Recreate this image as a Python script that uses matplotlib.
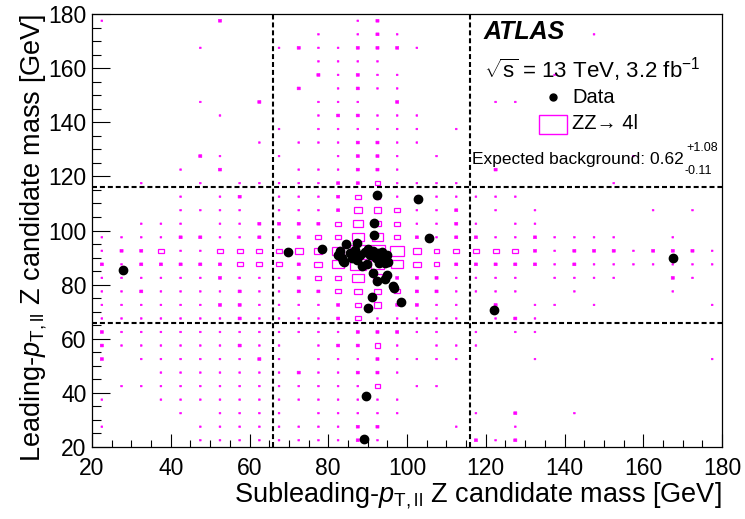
import numpy as np
import matplotlib
matplotlib.use("Agg")
from matplotlib import pyplot as plt
from matplotlib.patches import Rectangle

plt.rcParams['font.family'] = ['Liberation Sans', 'DejaVu Sans']
plt.rcParams['mathtext.fontset'] = 'custom'
plt.rcParams['mathtext.rm'] = 'Liberation Sans'
plt.rcParams['mathtext.it'] = 'Liberation Sans:italic'
plt.rcParams['mathtext.bf'] = 'Liberation Sans:bold'

# bin edges (5 GeV bins from 20 to 180) on both axes
bin_lo = 20
bin_w = 5

# ZZ -> 4l box sizes (0 = empty, 1 = dot ... 8 = biggest box)
# rows listed from the top (y = 177.5) to the bottom (y = 22.5)
zz_rows = [
    "10000020000001200000000000000000",
    "00000000000101210000000001000000",
    "00000100012112221000000000000000",
    "00000000000111100000000000000000",
    "00000000000212110000000100000000",
    "00000000002012110000000000000000",
    "00000100200111020000110000000000",
    "00000010000122111000000000000000",
    "00000000010111111010000000000000",
    "00000000101112211000000000000000",
    "00000210010012210100000000010000",
    "00001020001112210000200000000000",
    "00100101111122311110000000100000",
    "00001012011123311111110000000000",
    "00001111011124431120101000001010",
    "00111011222235431121011000000000",
    "11112211212336632122112111100100",
    "12231133334468874333332122212221",
    "21222223332468764322222121111111",
    "11111121112336522211110111100210",
    "11211112112234432211110010000100",
    "11111122111123422110201101000001",
    "11111112111123111110121000000000",
    "21111111111112221101011000000000",
    "21111112110122310111000000000000",
    "20111111210111211110001000000001",
    "00011111112112210000000000000000",
    "01111111111111301100000000000000",
    "10011111111111110000000000000000",
    "00001011110111110001020010000000",
    "10000111111112200010010000000000",
    "00000111111112100002120000000000",
]

# data events
data_x = [27.9, 69.9, 78.3, 92.3, 102.9, 91.6, 91.7, 105.6, 84.5, 87.4,
          167.6, 122.0, 89.5, 89.1, 91.0, 98.4, 90.1, 96.4, 96.6, 91.4,
          92.3, 94.4, 94.8, 83.0, 82.6, 83.4, 84.0, 85.5, 86.8, 87.2,
          88.5, 89.3, 89.9, 90.6, 91.4, 92.1, 92.7, 93.6, 94.0, 94.4,
          95.2, 88.0, 90.0, 86.0, 93.0, 83.8, 95.0]
data_y = [85.4, 92.0, 93.0, 113.1, 111.6, 102.9, 98.2, 97.4, 95.0, 95.4,
          89.7, 70.5, 38.8, 22.8, 75.3, 73.6, 71.4, 79.5, 78.7, 84.2,
          81.4, 82.0, 83.5, 92.5, 90.9, 89.7, 88.5, 91.6, 92.8, 89.1,
          86.9, 92.2, 87.6, 90.9, 92.5, 89.7, 91.6, 92.2, 90.3, 87.9,
          88.5, 91.0, 93.0, 90.0, 88.0, 88.6, 91.0]

cut_lo = 66
cut_hi = 116

magenta = '#ff00ff'

fig = plt.figure(figsize=(7.45, 5.19), dpi=100)
ax = fig.add_axes([92/745, 1-447/519, 630/745, 433/519])

nrow = len(zz_rows)
for r, row in enumerate(zz_rows):
    assert len(row) == 32
    yc = bin_lo + bin_w*(nrow - 1 - r) + bin_w/2
    for c, ch in enumerate(row):
        lev = int(ch)
        if lev == 0:
            continue
        xc = bin_lo + bin_w*c + bin_w/2
        if lev < 3:
            # tiny contents: drawn as small filled squares
            f = 0.09 if lev == 1 else 0.16
            w, h = f*bin_w, f*bin_w*1.3
            ax.add_patch(Rectangle((xc - w/2, yc - h/2), w, h, facecolor=magenta,
                                   edgecolor=magenta, lw=0.4, zorder=2, snap=False))
        else:
            f = lev*0.1
            w = f*bin_w
            ax.add_patch(Rectangle((xc - w/2, yc - w/2), w, w, fill=False,
                                   edgecolor=magenta, lw=0.9, zorder=2))

dash = (2.4, 1.4)
for v in (cut_lo, cut_hi):
    ax.axvline(v, color='black', lw=1.5, ls=(0, dash), zorder=3)
    ax.axhline(v, color='black', lw=1.5, ls=(0, dash), zorder=3)

ax.plot(data_x, data_y, 'o', color='black', ms=6, zorder=4)

ax.set_xlim(20, 180)
ax.set_ylim(20, 180)
ax.set_xticks(np.arange(20, 181, 20))
ax.set_yticks(np.arange(20, 181, 20))
ax.set_xticks(np.arange(20, 181, 5), minor=True)
ax.set_yticks(np.arange(20, 181, 5), minor=True)
ax.tick_params(axis='both', which='both', direction='in', top=False, right=False,
               labelsize=16.5, width=0.8)
ax.tick_params(axis='x', which='major', length=9.5, pad=7)
ax.tick_params(axis='x', which='minor', length=5)
ax.tick_params(axis='y', which='major', length=13, pad=4)
ax.tick_params(axis='y', which='minor', length=6.5)
for s in ax.spines.values():
    s.set_linewidth(0.9)

fig.text(722/745, 1-496/519, r'Subleading-$p_{\mathrm{T,ll}}$ Z candidate mass [GeV]',
         ha='right', va='center', fontsize=19.5)
fig.text(34/745, 1-14/519, r'Leading-$p_{\mathrm{T,ll}}$ Z candidate mass [GeV]',
         ha='center', va='top', rotation=90, fontsize=19.5)

tr = ax.transAxes
ax.text(0.621, 0.958, 'ATLAS', transform=tr, fontsize=18,
        fontweight='bold', fontstyle='italic', va='center', ha='left')
ax.text(0.622, 0.871, r'$\sqrt{\mathrm{s}}$ = 13 TeV, 3.2 fb$^{-1}$', transform=tr,
        fontsize=16, va='center', ha='left')
ax.plot([0.7317], [0.808], 'o', color='black', ms=5, transform=tr, clip_on=False)
ax.text(0.763, 0.808, 'Data', transform=tr, fontsize=14.5, va='center', ha='left')
ax.add_patch(Rectangle((0.7095, 0.723), 0.0445, 0.044, transform=tr,
                       fill=False, edgecolor=magenta, lw=1.0))
ax.text(0.762, 0.746, 'ZZ\u2192 4l', transform=tr, fontsize=14.5,
        va='center', ha='left')
ax.text(0.603, 0.663, 'Expected background: 0.62', transform=tr, fontsize=12.5,
        va='center', ha='left')
ax.text(0.944, 0.69, '+1.08', transform=tr, fontsize=9, va='center', ha='left')
ax.text(0.941, 0.638, '-0.11', transform=tr, fontsize=9, va='center', ha='left')

fig.savefig('out.png', dpi=100)
